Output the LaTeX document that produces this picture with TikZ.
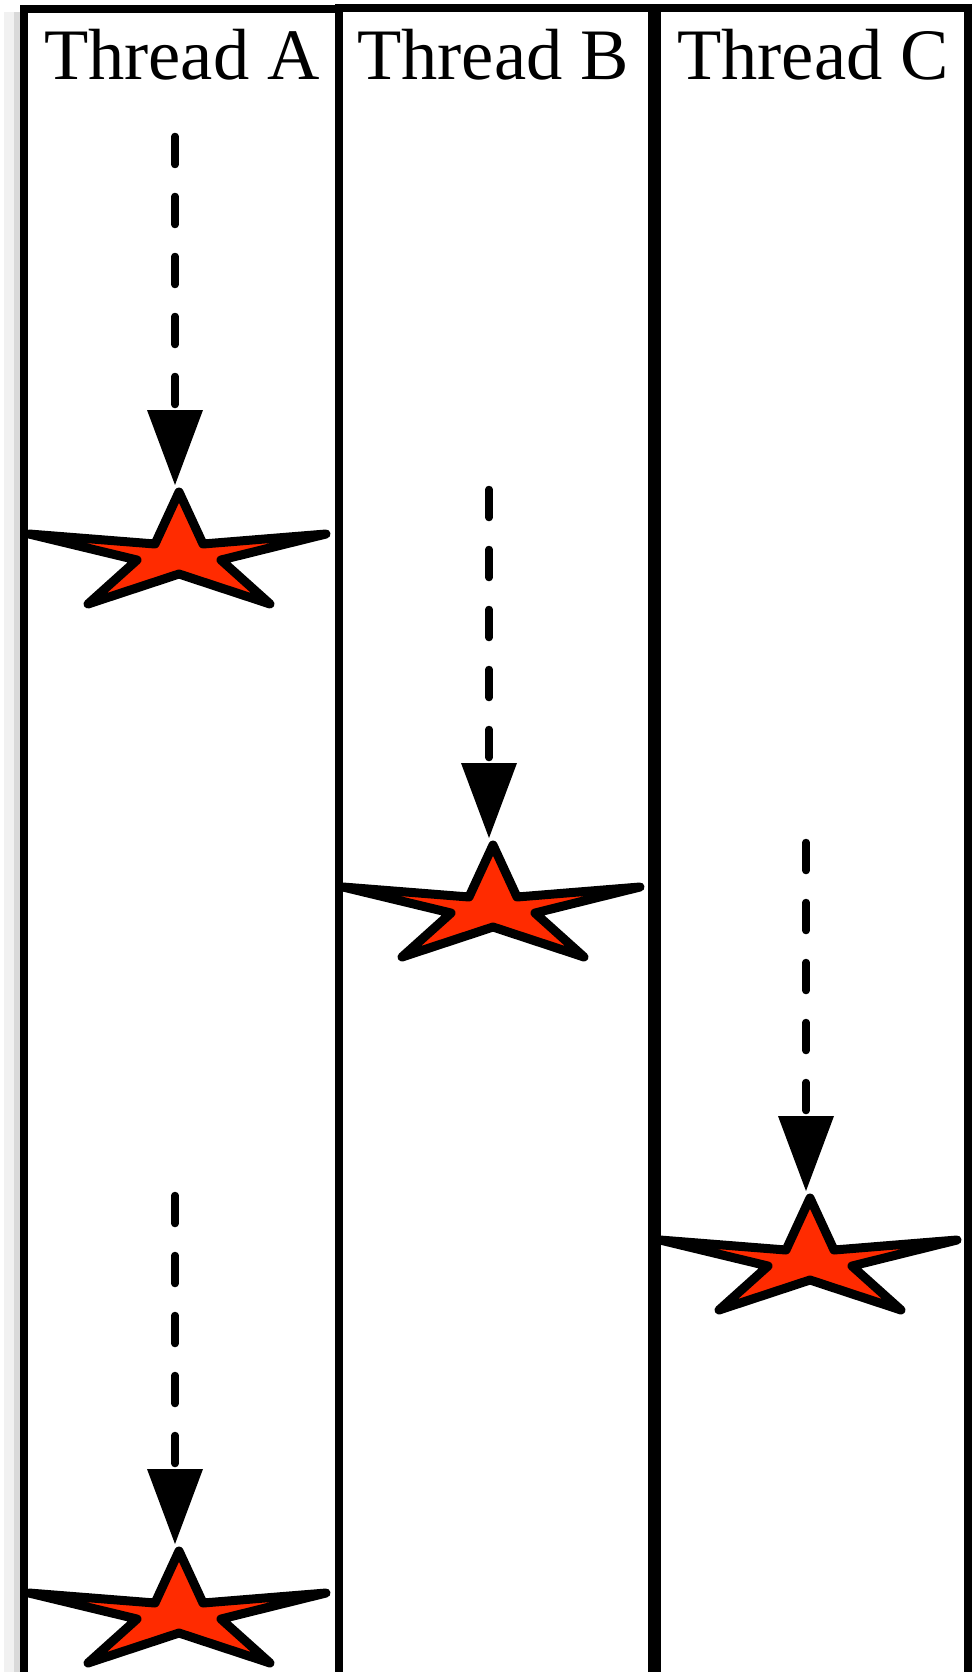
\documentclass[tikz,border=0pt]{standalone}
\usepackage{fontspec}
\setmainfont{Liberation Serif}
\usetikzlibrary{arrows.meta}
\definecolor{flamered}{HTML}{FF2B00}
\definecolor{shadegray}{HTML}{D9D9D9}
\definecolor{palegray}{HTML}{F1F1F1}

\begin{document}
\begin{tikzpicture}[x=1pt, y=-1pt,
  lane/.style={draw=black, line width=8pt},
  title/.style={font=\fontsize{72.5}{80}\selectfont, anchor=base, inner sep=0pt},
  flow/.style={line width=7.5pt, line cap=round, dash pattern=on 28pt off 32pt,
    -{Triangle[length=75pt, width=56pt, line width=0pt]}},
  burst/.pic={
    \draw[line width=9pt, line join=round, fill=flamered]
      (0,0) -- (24,52) -- (147,42) -- (42,68) -- (91,112) -- (0,82)
      -- (-91,112) -- (-42,68) -- (-150,42) -- (-24,52) -- cycle;
    \coordinate (-tip) at (-4,-7);
  }
]
  \useasboundingbox (0,0) rectangle (973,1672);
  \clip (0,0) rectangle (973,1672);

  % shadow strip on the left
  \fill[palegray] (4,12) rectangle (14,1672);
  \fill[shadegray] (14,12) rectangle (21,1672);

  % lanes
  \draw[lane] (24,9) rectangle (339,1700);
  \draw[lane] (339,8) rectangle (652,1700);
  \draw[lane] (657,8) rectangle (968,1700);

  \node[title] (tA) at (182,80) {Thread A};
  \node[title] (tB) at (493,80) {Thread B};
  \node[title] (tC) at (813,80) {Thread C};

  % events
  \pic (sA1) at (179,492) {burst};
  \pic (sB) at (493,845) {burst};
  \pic (sC) at (810,1198) {burst};
  \pic (sA2) at (179,1551) {burst};

  \coordinate (a1) at (175,136.5);
  \coordinate (b1) at (489,489.5);
  \coordinate (c1) at (806,842.5);
  \coordinate (a2) at (175,1195.5);

  \draw[flow] (a1) -- (sA1-tip);
  \draw[flow] (b1) -- (sB-tip);
  \draw[flow] (c1) -- (sC-tip);
  \draw[flow] (a2) -- (sA2-tip);
\end{tikzpicture}
\end{document}
